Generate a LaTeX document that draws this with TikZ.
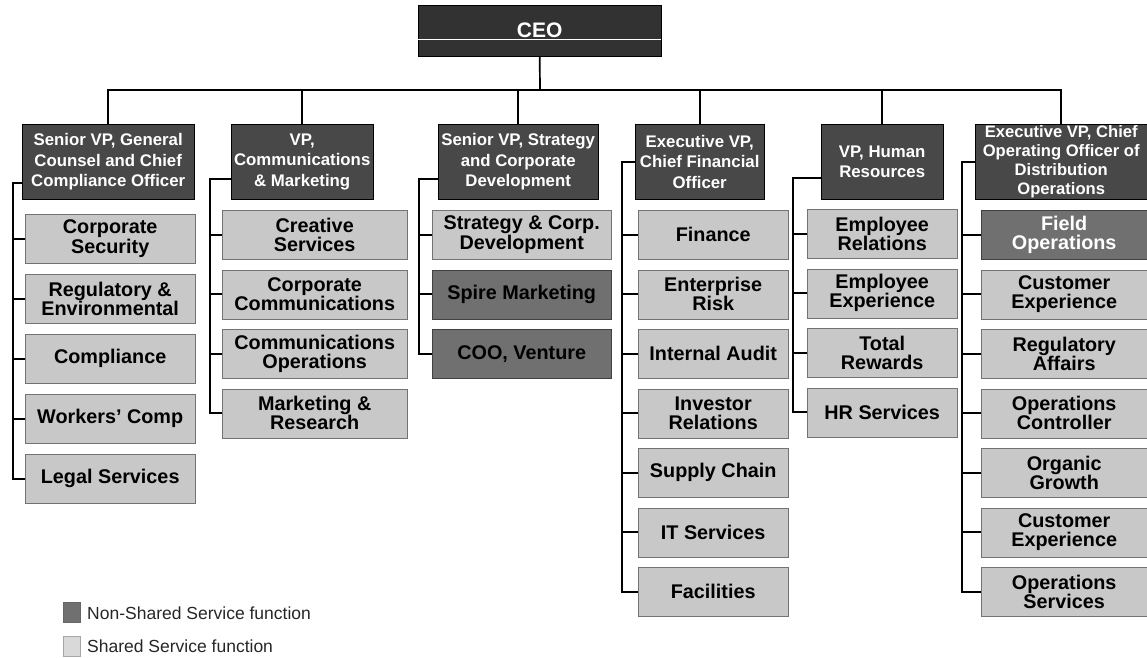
\documentclass[tikz,border=0pt]{standalone}
\usepackage{fontspec}
\setmainfont{Liberation Sans}
\definecolor{hdrgray}{RGB}{72,72,72}
\definecolor{ceogray}{RGB}{50,50,50}
\definecolor{subgray}{RGB}{200,200,200}
\definecolor{nsgray}{RGB}{112,112,112}
\newcommand{\subf}{\bfseries\fontsize{19.8}{19.2}\selectfont}
\newcommand{\hdrf}{\bfseries\fontsize{16.8}{20.5}\selectfont}
\newcommand{\hdrsix}{\bfseries\fontsize{16.6}{19}\selectfont}
\newcommand{\legf}{\fontsize{17.5}{20}\selectfont}
\tikzset{
  ceobox/.style={draw=black, fill=ceogray, text=white, inner sep=0pt, anchor=north west,
    minimum width=243pt, minimum height=51pt, font=\bfseries\fontsize{21}{21}\selectfont},
  hdr/.style={draw=black, fill=hdrgray, text=white, font=\hdrf, align=center,
    inner sep=0pt, anchor=north west, minimum height=75pt},
  sub/.style={draw=black!55, fill=subgray, text=black, font=\subf, align=center,
    inner sep=0pt, anchor=north west, minimum height=49pt},
  nsub/.style={sub, draw=black!75, fill=nsgray},
  conn/.style={draw=black, line width=1.7pt},
  legbox/.style={draw=black!60, inner sep=0pt, anchor=north west, minimum width=17pt, minimum height=20pt},
  legtext/.style={anchor=west, inner sep=0pt, font=\legf, text=black!85}
}
\begin{document}
\begin{tikzpicture}[x=1pt,y=-1pt]
\useasboundingbox (0,0) rectangle (1147,657);

% CEO
\node[ceobox] (ceo) at (418,5) {CEO};
\draw[white, line width=0.8pt] (ceo.west |- 0,39) -- (ceo.east |- 0,39);

% Headers
\node[hdr, minimum width=172pt] (h1) at (22,124) {Senior VP, General\\Counsel and Chief\\Compliance Officer};
\node[hdr, minimum width=142pt] (h2) at (231,124) {VP,\\Communications\\\& Marketing};
\node[hdr, minimum width=160pt] (h3) at (438,124) {Senior VP, Strategy\\and Corporate\\Development};
\node[hdr, minimum width=129pt] (h4) at (635,124) {Executive VP,\\Chief Financial\\Officer};
\node[hdr, minimum width=122pt] (h5) at (821,124) {VP, Human\\Resources};
\node[hdr, minimum width=172pt, font=\hdrsix] (h6) at (975,124) {Executive VP, Chief\\Operating Officer of\\Distribution\\Operations};

% Column 1
\node[sub, minimum width=170pt] (c11) at (25,214) {Corporate\\Security};
\node[sub, minimum width=170pt] (c12) at (25,274) {Regulatory \&\\Environmental};
\node[sub, minimum width=170pt] (c13) at (25,334) {Compliance};
\node[sub, minimum width=170pt] (c14) at (25,394) {Workers' Comp};
\node[sub, minimum width=170pt] (c15) at (25,454) {Legal Services};

% Column 2
\node[sub, minimum width=185pt] (c21) at (222,210) {Creative\\Services};
\node[sub, minimum width=185pt] (c22) at (222,269.5) {Corporate\\Communications};
\node[sub, minimum width=185pt] (c23) at (222,329) {Communications\\Operations};
\node[sub, minimum width=185pt] (c24) at (222,388.5) {Marketing \&\\Research};

% Column 3
\node[sub, minimum width=179pt] (c31) at (432,210) {Strategy \& Corp.\\Development};
\node[nsub, minimum width=179pt] (c32) at (432,269.5) {Spire Marketing};
\node[nsub, minimum width=179pt] (c33) at (432,329) {COO, Venture};

% Column 4
\node[sub, minimum width=150pt] (c41) at (638,210) {Finance};
\node[sub, minimum width=150pt] (c42) at (638,269.5) {Enterprise\\Risk};
\node[sub, minimum width=150pt] (c43) at (638,329) {Internal Audit};
\node[sub, minimum width=150pt] (c44) at (638,388.5) {Investor\\Relations};
\node[sub, minimum width=150pt] (c45) at (638,448) {Supply Chain};
\node[sub, minimum width=150pt] (c46) at (638,507.5) {IT Services};
\node[sub, minimum width=150pt] (c47) at (638,567) {Facilities};

% Column 5
\node[sub, minimum width=150pt] (c51) at (807,209) {Employee\\Relations};
\node[sub, minimum width=150pt] (c52) at (807,268.5) {Employee\\Experience};
\node[sub, minimum width=150pt] (c53) at (807,328) {Total\\Rewards};
\node[sub, minimum width=150pt] (c54) at (807,387.5) {HR Services};

% Column 6
\node[nsub, minimum width=166pt, text=white] (c61) at (981,210) {Field\\Operations};
\node[sub, minimum width=166pt] (c62) at (981,269.5) {Customer\\Experience};
\node[sub, minimum width=166pt] (c63) at (981,329) {Regulatory\\Affairs};
\node[sub, minimum width=166pt] (c64) at (981,388.5) {Operations\\Controller};
\node[sub, minimum width=166pt] (c65) at (981,448) {Organic\\Growth};
\node[sub, minimum width=166pt] (c66) at (981,507.5) {Customer\\Experience};
\node[sub, minimum width=166pt] (c67) at (981,567) {Operations\\Services};

% Bus from CEO to headers
\coordinate (bus) at (540,90);
\draw[conn] (ceo.south) -- (bus);
\draw[conn] (h1.north) -- (h1.north |- bus) -- (h6.north |- bus) -- (h6.north);
\foreach \h in {h2,h3,h4,h5} \draw[conn] (\h.north) -- (\h.north |- bus);

% Vertical spines
\coordinate (v1) at (13,183);
\coordinate (v2) at (210,179);
\coordinate (v3) at (419,179);
\coordinate (v4) at (622,162);
\coordinate (v5) at (793,178);
\coordinate (v6) at (962,162);

\draw[conn] (h1.west |- v1) -- (v1) -- (v1 |- c15.west) -- (c15.west);
\foreach \n in {c11,c12,c13,c14} \draw[conn] (v1 |- \n.west) -- (\n.west);

\draw[conn] (h2.west |- v2) -- (v2) -- (v2 |- c24.west) -- (c24.west);
\foreach \n in {c21,c22,c23} \draw[conn] (v2 |- \n.west) -- (\n.west);

\draw[conn] (h3.west |- v3) -- (v3) -- (v3 |- c33.west) -- (c33.west);
\foreach \n in {c31,c32} \draw[conn] (v3 |- \n.west) -- (\n.west);

\draw[conn] (h4.west |- v4) -- (v4) -- (v4 |- c47.west) -- (c47.west);
\foreach \n in {c41,c42,c43,c44,c45,c46} \draw[conn] (v4 |- \n.west) -- (\n.west);

\draw[conn] (h5.west |- v5) -- (v5) -- (v5 |- c54.west) -- (c54.west);
\foreach \n in {c51,c52,c53} \draw[conn] (v5 |- \n.west) -- (\n.west);

\draw[conn] (h6.west |- v6) -- (v6) -- (v6 |- c67.west) -- (c67.west);
\foreach \n in {c61,c62,c63,c64,c65,c66} \draw[conn] (v6 |- \n.west) -- (\n.west);

% Legend
\node[legbox, fill=nsgray] (l1) at (63,602) {};
\node[legtext] (t1) at (87,613) {Non-Shared Service function};
\node[legbox, fill=subgray!70, draw=black!35] (l2) at (63,636) {};
\node[legtext] (t2) at (87,646) {Shared Service function};
\end{tikzpicture}
\end{document}
